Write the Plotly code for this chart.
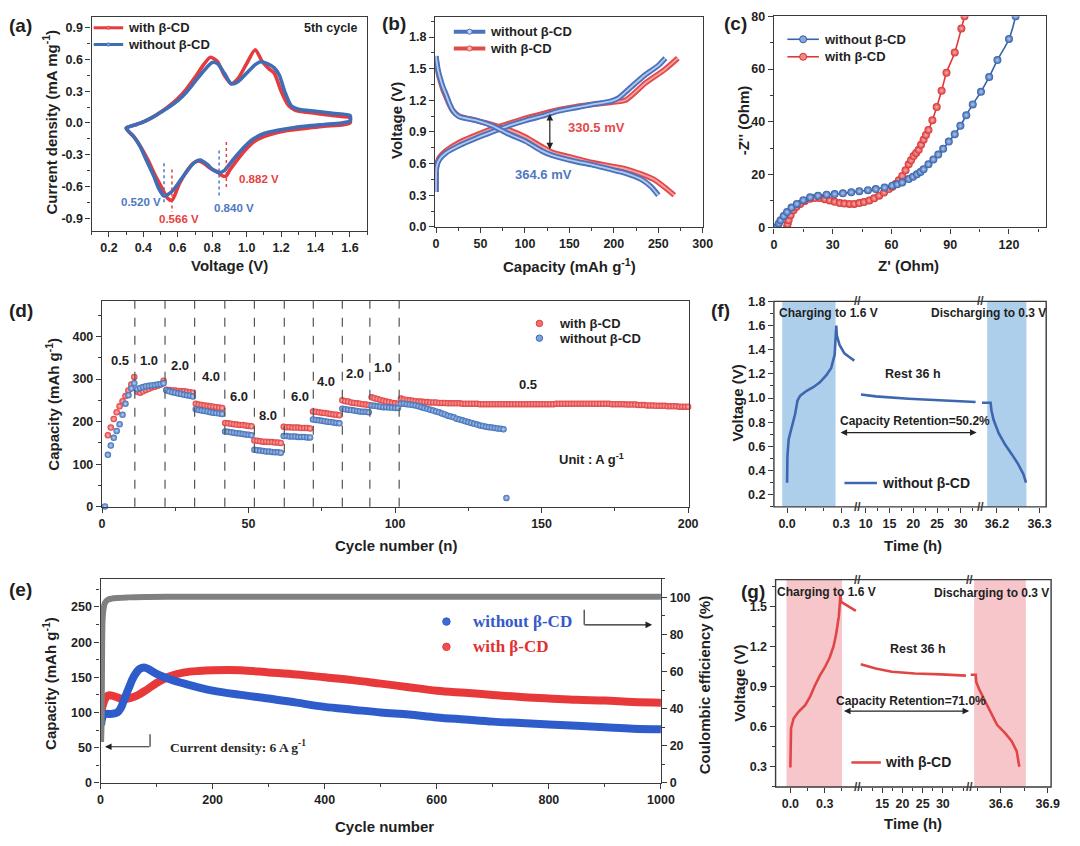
import plotly.graph_objects as go

# ======================= DATA =======================
# (a) CV curves, 5th cycle  (voltage V, current mA mg-1)
cv_red_up_v = [0.30,0.35,0.40,0.45,0.50,0.55,0.60,0.65,0.70,0.75,0.79,0.83,0.87,0.91,0.95,1.00,1.05,1.09,1.13,1.16,1.20,1.24,1.28,1.35,1.45,1.55,1.60]
cv_red_up_i = [-0.05,-0.02,0.01,0.05,0.10,0.16,0.23,0.32,0.43,0.55,0.62,0.58,0.45,0.37,0.42,0.56,0.69,0.58,0.51,0.47,0.30,0.17,0.12,0.10,0.08,0.06,0.05]
cv_red_dn_v = [1.60,1.55,1.45,1.35,1.25,1.18,1.10,1.04,0.99,0.94,0.90,0.882,0.86,0.83,0.79,0.75,0.72,0.69,0.65,0.61,0.566,0.54,0.51,0.47,0.43,0.39,0.35,0.30]
cv_red_dn_i = [0.00,-0.02,-0.03,-0.05,-0.07,-0.09,-0.13,-0.18,-0.26,-0.36,-0.45,-0.50,-0.50,-0.46,-0.43,-0.38,-0.36,-0.38,-0.46,-0.57,-0.73,-0.71,-0.62,-0.50,-0.36,-0.24,-0.14,-0.05]
cv_blue_up_v = [0.30,0.35,0.40,0.45,0.50,0.55,0.60,0.65,0.70,0.75,0.80,0.83,0.87,0.91,0.95,1.00,1.05,1.08,1.12,1.16,1.19,1.22,1.26,1.30,1.40,1.50,1.60]
cv_blue_up_i = [-0.05,-0.02,0.01,0.05,0.10,0.15,0.21,0.29,0.39,0.49,0.57,0.56,0.47,0.37,0.39,0.47,0.55,0.577,0.56,0.52,0.45,0.30,0.16,0.13,0.11,0.09,0.07]
cv_blue_dn_v = [1.60,1.55,1.45,1.35,1.25,1.18,1.10,1.04,0.99,0.94,0.90,0.87,0.84,0.81,0.77,0.73,0.70,0.66,0.62,0.57,0.52,0.49,0.46,0.42,0.38,0.34,0.30]
cv_blue_dn_i = [0.02,0.00,-0.015,-0.03,-0.05,-0.07,-0.10,-0.15,-0.22,-0.31,-0.39,-0.45,-0.47,-0.45,-0.39,-0.35,-0.37,-0.44,-0.53,-0.64,-0.69,-0.62,-0.50,-0.36,-0.22,-0.12,-0.05]
cv_peaks_v = [0.520, 0.566, 0.840, 0.882]
cv_peak_labels = ["0.520 V", "0.566 V", "0.840 V", "0.882 V"]

# (b) charge / discharge profiles (capacity mAh g-1, voltage V)
gcd_blue_chg_cap = [0, 0.7, 4, 11, 26, 45, 63, 82, 101, 119, 138, 157, 175, 196, 205, 220, 235, 250, 258]
gcd_blue_chg_v   = [0.33, 0.57, 0.64, 0.70, 0.77, 0.84, 0.90, 0.96, 1.01, 1.05, 1.10, 1.13, 1.16, 1.19, 1.22, 1.33, 1.44, 1.53, 1.60]
gcd_red_chg_cap  = [0, 0.7, 4, 11, 26, 45, 63, 82, 101, 119, 138, 157, 175, 196, 213, 235, 257, 272]
gcd_red_chg_v    = [0.33, 0.58, 0.66, 0.72, 0.80, 0.87, 0.93, 0.98, 1.03, 1.07, 1.11, 1.14, 1.16, 1.18, 1.20, 1.36, 1.49, 1.60]
gcd_blue_dis_cap = [0, 1, 2.5, 5, 8, 11, 15, 19, 26, 45, 63, 82, 101, 119, 130, 157, 175, 194, 213, 231, 242, 250]
gcd_blue_dis_v   = [1.62, 1.55, 1.48, 1.40, 1.32, 1.26, 1.17, 1.10, 1.045, 1.01, 0.96, 0.88, 0.81, 0.72, 0.68, 0.62, 0.59, 0.55, 0.51, 0.45, 0.38, 0.30]
gcd_red_dis_cap  = [0, 1, 2.5, 5, 8, 11, 15, 19, 26, 45, 63, 82, 101, 119, 130, 157, 175, 194, 213, 231, 245, 258, 268]
gcd_red_dis_v    = [1.60, 1.53, 1.46, 1.38, 1.30, 1.24, 1.16, 1.10, 1.05, 1.01, 0.97, 0.92, 0.85, 0.76, 0.71, 0.65, 0.61, 0.58, 0.55, 0.50, 0.45, 0.37, 0.30]
gcd_gap_cap = 128
gcd_gap_v = [0.72, 1.07]

# (c) Nyquist plots (Z' Ohm, -Z'' Ohm)
eis_blue_re = [1.7,2.5,3.4,5.0,6.7,9.0,11.7,15.0,18.5,22.5,26.9,31.0,35.2,39.5,43.6,48.0,52.0,56.5,60.4,63.0,
               65.5,68.8,71.0,73.0,74.8,76.4,78.9,81.4,83.9,86.4,89.3,92.3,95.2,98.2,101.5,105.7,109.9,114.1,120.0,123.4]
eis_blue_im = [0.2,1.5,2.7,4.3,5.8,7.5,8.9,10.3,11.4,12.0,12.4,12.6,12.9,13.3,13.7,14.1,14.5,15.1,15.8,16.3,
               17.0,18.3,19.2,20.1,21.0,22.0,23.9,25.7,27.6,29.8,32.5,35.3,38.5,42.5,46.6,51.4,57.0,63.4,71.4,80.0]
eis_red_re = [6.7,7.0,7.5,8.5,10.0,11.5,13.4,15.8,18.5,21.0,23.5,26.0,28.5,31.0,33.6,36.0,38.6,41.0,43.6,46.0,
              48.7,51.2,53.7,56.2,58.7,60.5,62.1,63.8,65.5,67.2,68.8,70.0,71.3,72.6,73.9,75.1,76.4,77.6,78.9,80.9,
              83.1,85.6,88.1,92.3,95.7,97.3]
eis_red_im = [0.0,1.2,2.7,4.6,6.5,7.8,8.9,10.0,10.8,11.1,11.1,10.7,10.2,9.7,9.2,9.0,8.9,8.9,9.2,9.6,
              10.2,11.0,12.0,13.2,14.5,15.4,16.4,17.9,19.5,21.6,23.9,25.4,27.0,28.2,29.4,31.3,33.2,35.0,36.9,40.6,
              45.6,51.8,58.6,66.3,75.4,80.0]

# (d) rate performance: capacity per cycle for each current-density step
rate_steps = ["0.5", "1.0", "2.0", "4.0", "6.0", "8.0", "6.0", "4.0", "2.0", "1.0", "0.5"]
rate_label_x = [6.2, 16.0, 26.5, 37.3, 46.6, 56.6, 67.4, 76.6, 86.3, 95.9, 145.3]
rate_label_y = [343, 343, 332, 307, 258, 214, 260, 295, 312, 328, 288]
rate_boundaries = [11.2, 21.5, 31.6, 41.9, 52.0, 62.2, 72.1, 82.0, 91.4, 101.4]
rate_first_cycle = 2
red_rate = [
    [168, 186, 206, 222, 236, 248, 260, 273, 287, 305],
    [270, 268, 271, 274, 277, 280, 282, 284, 287, 296],
    [275, 274, 273, 273, 272, 271, 271, 270, 269, 268],
    [242, 240, 239, 238, 237, 236, 235, 234, 233, 232],
    [197, 196, 195, 194, 193, 192, 192, 191, 190, 189],
    [156, 155, 154, 153, 153, 152, 152, 151, 151, 150],
    [188, 187, 187, 186, 186, 186, 185, 185, 185, 184],
    [224, 223, 222, 221, 220, 219, 218, 217, 216, 215],
    [250, 248, 247, 245, 244, 243, 242, 241, 240, 239],
    [257, 255, 253, 251, 249, 247, 246, 244, 243, 242],
    [254, 252, 251, 250, 249, 248, 247, 247, 246,
     246, 245, 245, 245, 244, 244, 244, 243, 243, 243,
     243, 243, 242, 242, 242, 242, 242, 242, 241, 241,
     241, 241, 241, 241, 241, 241, 241, 241, 241, 241,
     241, 241, 241, 241, 241, 241, 241, 241, 241, 241,
     241, 241, 241, 241, 242, 242, 242, 242, 242, 242,
     242, 242, 242, 242, 242, 242, 242, 242, 242, 242,
     242, 242, 242, 241, 241, 241, 241, 241, 240, 240,
     240, 240, 239, 239, 239, 238, 238, 238, 237, 237,
     237, 237, 236, 236, 236, 236, 235, 235, 235, 235],
]
blue_rate = [
    [122, 144, 162, 178, 194, 216, 242, 262, 278, 290],
    [276, 279, 281, 283, 284, 285, 286, 287, 288, 290],
    [273, 271, 269, 268, 266, 265, 263, 262, 261, 259],
    [229, 227, 226, 225, 224, 222, 221, 220, 219, 218],
    [177, 176, 175, 174, 173, 172, 171, 170, 169, 168],
    [134, 133, 132, 131, 130, 130, 129, 128, 128, 127],
    [166, 166, 165, 165, 165, 164, 164, 164, 163, 163],
    [205, 204, 203, 202, 201, 200, 199, 198, 197, 196],
    [230, 229, 228, 227, 226, 225, 224, 223, 223, 222],
    [238, 237, 236, 235, 234, 234, 233, 233, 232, 232],
    [242, 242, 241, 240, 239, 238, 236, 234, 232, 230,
     228, 226, 224, 222, 219, 217, 214, 212, 210, 207,
     205, 203, 201, 199, 197, 195, 193, 191, 190, 188,
     187, 186, 185, 184, 183, 182],
]
blue_extra_cycles = [1, 138]
blue_extra_caps = [1, 21]

# (e) long-term cycling at 6 A g-1
cyc_blue = [1, 3, 6, 10, 20, 30, 36, 42, 50, 60, 70, 78, 85, 100, 125, 150, 200, 250, 300, 350, 400,
            450, 500, 550, 600, 650, 700, 750, 800, 850, 900, 950, 1000]
cap_blue = [82, 92, 97, 98, 98, 100, 106, 118, 134, 152, 162, 164, 162, 155, 147, 141, 131, 125, 120, 114, 108,
            104, 100, 97, 93, 90, 87, 85, 83, 81, 79, 77, 76]
cyc_red = [1, 4, 8, 13, 20, 28, 40, 55, 65, 80, 100, 125, 150, 175, 200, 250, 300, 350, 400, 450, 500,
           550, 600, 650, 700, 750, 800, 850, 900, 950, 1000]
cap_red = [100, 110, 119, 124, 124, 122, 119, 121, 124, 131, 142, 152, 157, 159, 160, 160, 157, 154, 150, 146, 141,
           136, 131, 128, 125, 122, 120, 118, 117, 115, 114]
cyc_ce = [1, 2, 3, 4, 6, 8, 12, 20, 30, 50, 80, 120, 200, 300, 400, 500, 600, 700, 800, 900, 1000]
ce = [22, 35, 80, 90, 95, 97, 98.5, 99.3, 99.7, 100, 100.2, 100.3, 100.3, 100.3, 100.3, 100.4, 100.3, 100.3, 100.4, 100.3, 100.3]

# (f) self-discharge, without beta-CD  (time h, voltage V), three broken-axis segments
f_t1 = [0.0, 0.002, 0.009, 0.027, 0.045, 0.058, 0.073, 0.109, 0.145, 0.182, 0.218, 0.245, 0.264, 0.273, 0.276, 0.291, 0.318, 0.345, 0.373]
f_v1 = [0.30, 0.52, 0.66, 0.76, 0.87, 0.98, 1.02, 1.06, 1.09, 1.13, 1.19, 1.25, 1.36, 1.60, 1.52, 1.44, 1.37, 1.34, 1.31]
f_t2 = [9.0, 12.1, 19.0, 25.9, 33.1]
f_v2 = [1.03, 1.014, 0.995, 0.98, 0.967]
f_t3 = [36.165, 36.185, 36.187, 36.192, 36.204, 36.219, 36.235, 36.250, 36.262, 36.268]
f_v3 = [0.962, 0.962, 0.90, 0.82, 0.71, 0.615, 0.534, 0.452, 0.37, 0.30]
f_shade = [(-0.027, 0.269), (36.177, 36.269)]

# (g) self-discharge, with beta-CD
g_t1 = [0.0, 0.002, 0.006, 0.029, 0.071, 0.129, 0.171, 0.214, 0.257, 0.300, 0.343, 0.377, 0.400, 0.423, 0.437, 0.443, 0.471, 0.514, 0.571]
g_v1 = [0.295, 0.52, 0.59, 0.664, 0.713, 0.762, 0.824, 0.91, 0.984, 1.045, 1.12, 1.205, 1.30, 1.43, 1.59, 1.537, 1.52, 1.50, 1.47]
g_t2 = [9.7, 13.4, 17.4, 23.1, 29.6, 35.7]
g_v2 = [1.07, 1.038, 1.013, 1.0, 0.993, 0.984]
g_t3 = [36.406, 36.438, 36.442, 36.459, 36.491, 36.532, 36.575, 36.627, 36.669, 36.701, 36.718]
g_v3 = [0.99, 0.99, 0.934, 0.885, 0.81, 0.713, 0.615, 0.553, 0.492, 0.418, 0.30]
g_shade = [(-0.034, 0.451), (36.428, 36.76)]

# ======================= STYLE =======================
# The page keeps the browser's default 8 px body margin, so the figure is sized so that
# figure + margins fill the 1080 x 846 window exactly.
PAGE_W, PAGE_H, BODY_MARGIN = 1080, 846, 8
W, H = PAGE_W - 2 * BODY_MARGIN, PAGE_H - 2 * BODY_MARGIN
FONT = "Liberation Sans, Arial, Helvetica, sans-serif"
SERIF = "Liberation Serif, Times New Roman, serif"
INK = "#1f1f1f"
LINE = "#3a3a3a"

def px(x):
    return (x - BODY_MARGIN) / W

def py(y):
    return 1 - (y - BODY_MARGIN) / H

RED = "#E53B3E"
BLUE = "#3F6DB6"

fig = go.Figure()

def ball(edge, center, size):
    return dict(size=size, color=edge, gradient=dict(type="radial", color=center), line=dict(width=0))

# ---------- (a)
for v1, i1, v2, i2, col in [(cv_red_up_v, cv_red_up_i, cv_red_dn_v, cv_red_dn_i, RED),
                            (cv_blue_up_v, cv_blue_up_i, cv_blue_dn_v, cv_blue_dn_i, BLUE)]:
    fig.add_trace(go.Scatter(x=v1 + v2, y=i1 + i2, mode="lines",
                             line=dict(color=col, width=3.6, shape="spline", smoothing=0.7),
                             xaxis="x", yaxis="y"))

# ---------- (b)
for cap, v, col, core in [(gcd_red_chg_cap, gcd_red_chg_v, "#E24A4A", "#F6A3A3"),
                          (gcd_red_dis_cap, gcd_red_dis_v, "#E24A4A", "#F6A3A3"),
                          (gcd_blue_chg_cap, gcd_blue_chg_v, "#4B73BD", "#B4C8EC"),
                          (gcd_blue_dis_cap, gcd_blue_dis_v, "#4B73BD", "#B4C8EC")]:
    fig.add_trace(go.Scatter(x=cap, y=v, mode="lines", line=dict(color=col, width=5.5, shape="spline", smoothing=0.6),
                             xaxis="x2", yaxis="y2"))
    fig.add_trace(go.Scatter(x=cap, y=v, mode="lines", line=dict(color=core, width=1.8, shape="spline", smoothing=0.6),
                             xaxis="x2", yaxis="y2"))

# ---------- (c)
fig.add_trace(go.Scatter(x=eis_red_re, y=eis_red_im, mode="lines+markers",
                         line=dict(color="#E03838", width=1.6, shape="spline"),
                         marker=ball("#D83030", "#FBB0B0", 8), xaxis="x3", yaxis="y3"))
fig.add_trace(go.Scatter(x=eis_blue_re, y=eis_blue_im, mode="lines+markers",
                         line=dict(color="#3563B0", width=1.6, shape="spline"),
                         marker=ball("#2F5EAA", "#B5C9EE", 8), xaxis="x3", yaxis="y3"))

# ---------- (d)
def flatten_steps(steps, start):
    xs, ys = [], []
    c = start
    for seg in steps:
        for val in seg:
            xs.append(c)
            ys.append(val)
            c += 1
    return xs, ys

rx, ry = flatten_steps(red_rate, rate_first_cycle)
bx, by = flatten_steps(blue_rate, rate_first_cycle)
fig.add_trace(go.Scatter(x=rx, y=ry, mode="markers", marker=ball("#E03A3A", "#FFC0C0", 6.5),
                         xaxis="x4", yaxis="y4", cliponaxis=False))
fig.add_trace(go.Scatter(x=bx + blue_extra_cycles, y=by + blue_extra_caps, mode="markers",
                         marker=ball("#3A6CB5", "#C2D4F4", 6.5), xaxis="x4", yaxis="y4", cliponaxis=False))

# ---------- (e)
fig.add_trace(go.Scatter(x=cyc_ce, y=ce, mode="lines", line=dict(color="#808080", width=6, shape="spline"),
                         xaxis="x8", yaxis="y9"))
fig.add_trace(go.Scatter(x=cyc_red, y=cap_red, mode="lines", line=dict(color="#E8393A", width=8, shape="spline"),
                         xaxis="x8", yaxis="y8"))
fig.add_trace(go.Scatter(x=cyc_blue, y=cap_blue, mode="lines", line=dict(color="#2F5CCB", width=8, shape="spline"),
                         xaxis="x8", yaxis="y8"))

# ---------- (f)
FBLUE = "#3D68B0"
for t, v, xa in [(f_t1, f_v1, "x5"), (f_t2, f_v2, "x6"), (f_t3, f_v3, "x7")]:
    fig.add_trace(go.Scatter(x=t, y=v, mode="lines", line=dict(color=FBLUE, width=2.6),
                             xaxis=xa, yaxis="y5"))

# ---------- (g)
GRED = "#E04646"
for t, v, xa in [(g_t1, g_v1, "x10"), (g_t2, g_v2, "x11"), (g_t3, g_v3, "x12")]:
    fig.add_trace(go.Scatter(x=t, y=v, mode="lines", line=dict(color=GRED, width=2.6),
                             xaxis=xa, yaxis="y10"))

# ======================= AXES =======================
TICKFONT = dict(family=FONT, size=12.5, color=INK, weight="bold")

def axis(domain, rng, mdt=None, showline=True, mirror=True, **kw):
    d = dict(domain=domain, range=rng, showgrid=False, zeroline=False,
             showline=showline, linecolor=LINE, linewidth=1.4, mirror=mirror,
             ticks="outside", ticklen=5, tickwidth=1.3, tickcolor=LINE,
             tickfont=TICKFONT)
    if mdt is not None:
        d["minor"] = dict(ticks="outside", ticklen=3, tickwidth=1, tickcolor=LINE, dtick=mdt, showgrid=False)
    d.update(kw)
    return d

def fmt(vals, nd=1):
    return [f"{v:.{nd}f}" for v in vals]

a_xt = [0.2, 0.4, 0.6, 0.8, 1.0, 1.2, 1.4, 1.6]
a_yt = [-0.9, -0.6, -0.3, 0.0, 0.3, 0.6, 0.9]
b_yt = [0.0, 0.3, 0.6, 0.9, 1.2, 1.5, 1.8]
f_yt = [0.2, 0.4, 0.6, 0.8, 1.0, 1.2, 1.4, 1.6, 1.8]
g_yt = [0.3, 0.6, 0.9, 1.2, 1.5]

lay = dict(
    width=W, height=H, margin=dict(l=0, r=0, t=0, b=0),
    paper_bgcolor="white", plot_bgcolor="rgba(0,0,0,0)", showlegend=False,
    # (a)
    xaxis=axis([px(90), px(370)], [0.1, 1.7], 0.1, anchor="y", tickvals=a_xt, ticktext=fmt(a_xt), tick0=0),
    yaxis=axis([py(227.7), py(10)], [-1.02, 1.0], 0.15, anchor="x", tickvals=a_yt,
               ticktext=[f"{v:.1f}" for v in a_yt], tick0=0),
    # (b)
    xaxis2=axis([px(439), px(711)], [-1, 300], 25, anchor="y2", dtick=50, tick0=0),
    yaxis2=axis([py(223.5), py(10)], [0, 1.99], 0.15, anchor="x2", tickvals=b_yt, ticktext=fmt(b_yt), tick0=0),
    # (c)
    xaxis3=axis([px(783.3), px(1060)], [0, 139], 15, anchor="y3", dtick=30, tick0=0),
    yaxis3=axis([py(224), py(9.3)], [0, 80], 10, anchor="x3", dtick=20, tick0=0),
    # (d)
    xaxis4=axis([px(100.5), px(697)], [0, 200.3], 25, anchor="y4", dtick=50, tick0=0),
    yaxis4=axis([py(508.3), py(298.5)], [0, 484], 50, anchor="x4", tickvals=[0, 100, 200, 300, 400], tick0=0),
    # (f)
    xaxis5=axis([px(783.3), px(868.3)], [-0.073, 0.391], 0.1, showline=False, mirror=False, anchor="y5",
                tickvals=[0.0, 0.3], ticktext=["0.0", "0.3"], tick0=0),
    xaxis6=axis([px(868.3), px(993.3)], [8.28, 34.14], 2.5, showline=False, mirror=False, anchor="y5",
                tickvals=[10, 15, 20, 25, 30], tick0=0),
    xaxis7=axis([px(993.3), px(1060)], [36.1615, 36.3154], 0.05, showline=False, mirror=False, anchor="y5",
                tickvals=[36.2, 36.3], ticktext=["36.2", "36.3"], tick0=36.0),
    yaxis5=axis([py(508.3), py(299.3)], [0.1, 1.8], 0.1, showline=False, mirror=False, anchor="x5",
                tickvals=f_yt, ticktext=fmt(f_yt), tick0=0),
    # (e)
    xaxis8=axis([px(99), px(668.5)], [0, 1000], 100, anchor="y8", dtick=200, tick0=0),
    yaxis8=axis([py(789), py(581.5)], [0, 290], 25, mirror=False, anchor="x8", tickvals=[0, 50, 100, 150, 200, 250], tick0=0),
    yaxis9=axis([py(789), py(581.5)], [0, 110], 10, mirror=False, anchor="x8", overlaying="y8", side="right",
                tickvals=[0, 20, 40, 60, 80, 100], tick0=0),
    # (g)
    xaxis10=axis([px(785), px(868.3)], [-0.129, 0.586], 0.15, showline=False, mirror=False, anchor="y10",
                 tickvals=[0.0, 0.3], ticktext=["0.0", "0.3"], tick0=0),
    xaxis11=axis([px(868.3), px(981.7)], [8.92, 36.49], 2.5, showline=False, mirror=False, anchor="y10",
                 tickvals=[15, 20, 25, 30], tick0=0),
    xaxis12=axis([px(981.7), px(1065)], [36.396, 36.922], 0.15, showline=False, mirror=False, anchor="y10",
                 tickvals=[36.6, 36.9], ticktext=["36.6", "36.9"], tick0=36.0),
    yaxis10=axis([py(793.3), py(582.3)], [0.148, 1.704], 0.15, showline=False, mirror=False, anchor="x10",
                 tickvals=g_yt, ticktext=fmt(g_yt), tick0=0),
)
fig.update_layout(**lay)

# ======================= ANNOTATIONS & SHAPES =======================
ann = []
shapes = []

def txt(x, y, s, size=13, color=INK, xa="center", ya="middle", family=FONT, angle=0, bold=True,
        xref="paper", yref="paper"):
    if xref == "paper":
        x = px(x)
    if yref == "paper":
        y = py(y)
    ann.append(dict(x=x, y=y, xref=xref, yref=yref, text=(f"<b>{s}</b>" if bold else s), showarrow=False,
                    font=dict(family=family, size=size, color=color), xanchor=xa, yanchor=ya, textangle=angle))

def pline(x0, y0, x1, y1, color=LINE, width=1.3, dash=None):
    ln = dict(color=color, width=width)
    if dash:
        ln["dash"] = dash
    shapes.append(dict(type="line", xref="paper", yref="paper", x0=px(x0), y0=py(y0), x1=px(x1), y1=py(y1), line=ln))

def pdot(x, y, r, color, edge=None):
    shapes.append(dict(type="circle", xref="paper", yref="paper", x0=px(x - r), x1=px(x + r), y0=py(y + r), y1=py(y - r),
                       fillcolor=color, line=dict(color=edge or color, width=1)))

def parrow(x_head, y_head, x_tail, y_tail, both=False, color="#222", width=1.2):
    ann.append(dict(x=px(x_head), y=py(y_head), xref="paper", yref="paper", ax=x_tail - x_head, ay=y_tail - y_head,
                    axref="pixel", ayref="pixel", text="", showarrow=True, arrowhead=2, arrowsize=1.1,
                    arrowwidth=width, arrowcolor=color, arrowside=("end+start" if both else "end")))

# panel letters
for s, x, y in [("(a)", 18, 19), ("(b)", 397, 17), ("(c)", 744, 17), ("(d)", 18, 309),
                ("(f)", 729, 309), ("(e)", 18, 592), ("(g)", 762, 594)]:
    txt(x, y, s, size=19)

# axis titles
TS = 15
txt(230, 263, "Voltage (V)", TS)
txt(47, 117, "Current density (mA mg<sup>-1</sup>)", TS, angle=-90)
txt(576, 263, "Capacity (mAh g<sup>-1</sup>)", TS)
txt(399, 115, "Voltage (V)", TS, angle=-90)
txt(920, 263, "Z' (Ohm)", TS)
txt(752, 115, "-Z'' (Ohm)", TS, angle=-90)
txt(400, 548, "Cycle number (n)", TS)
txt(50, 404, "Capacity (mAh g<sup>-1</sup>)", TS, angle=-90)
txt(925, 548, "Time (h)", TS)
txt(746, 403, "Voltage (V)", TS, angle=-90)
txt(388, 833, "Cycle number", TS)
txt(47, 688, "Capacity (mAh g<sup>-1</sup>)", TS, angle=-90)
txt(713, 690, "Coulombic efficiency (%)", TS, angle=-90)
txt(925, 830, "Time (h)", TS)
txt(748, 688, "Voltage (V)", TS, angle=-90)

# (a) legend, labels, peak markers
pline(92, 21, 122, 21, RED, 3)
pdot(107, 21, 1.6, "#F08080", RED)
txt(125, 21, "with β-CD", 13, xa="left")
pline(92, 38, 122, 38, BLUE, 3)
pdot(107, 38, 1.6, "#90A8D8", BLUE)
txt(125, 38, "without β-CD", 13, xa="left")
txt(363, 21, "5th cycle", 12.5, xa="right")
peak_col = ["#4C78C4", "#E84040", "#4C78C4", "#E84040"]
peak_span = [(-0.38, -0.76), (-0.44, -0.84), (-0.26, -0.70), (-0.18, -0.63)]
peak_pos = [(0.384, -0.75), (0.607, -0.905), (0.927, -0.80), (1.07, -0.53)]
for v, lab, c, sp, pp in zip(cv_peaks_v, cv_peak_labels, peak_col, peak_span, peak_pos):
    shapes.append(dict(type="line", xref="x", yref="y", x0=v, x1=v, y0=sp[0], y1=sp[1],
                       line=dict(color=c, width=1.5, dash="dot")))
    txt(pp[0], pp[1], lab, 11.5, color=c, xref="x", yref="y")

# (b) legend, arrow, labels
pline(458, 25, 490, 25, "#4B73BD", 4)
pdot(474, 25, 2.6, "#C8D6F0", "#4B73BD")
txt(493, 25, "without β-CD", 13, xa="left")
pline(458, 42, 490, 42, "#E24A4A", 4)
pdot(474, 42, 2.6, "#F7B8B8", "#E24A4A")
txt(493, 42, "with β-CD", 13, xa="left")
ann.append(dict(x=gcd_gap_cap, y=gcd_gap_v[1], ax=gcd_gap_cap, ay=gcd_gap_v[0], xref="x2", yref="y2",
                axref="x2", ayref="y2", text="", showarrow=True, arrowhead=2, arrowsize=1.1, arrowwidth=1.2,
                arrowcolor="#222", arrowside="end+start"))
txt(181, 0.945, "330.5 mV", 13, color="#E8484A", xref="x2", yref="y2")
txt(121, 0.50, "364.6 mV", 13, color="#4F79C2", xref="x2", yref="y2")

# (c) legend
pline(797, 32.7, 829, 32.7, "#3563B0", 1.6)
pdot(813, 32.7, 3.6, "#8AA6DA", "#2F5EAA")
txt(832, 32.7, "without β-CD", 13, xa="left")
pline(797, 50.5, 829, 50.5, "#E03838", 1.6)
pdot(813, 50.5, 3.6, "#F08888", "#D83030")
txt(832, 50.5, "with β-CD", 13, xa="left")

# (d) boundaries, rate labels, legend
for b in rate_boundaries:
    shapes.append(dict(type="line", xref="x4", yref="y4 domain", x0=b, x1=b, y0=0, y1=1,
                       line=dict(color="#555555", width=1.2, dash="dash")))
for s, x, y in zip(rate_steps, rate_label_x, rate_label_y):
    txt(x, y, s, 13, xref="x4", yref="y4")
pdot(545, 321.7, 3.3, "#F07070", "#E03A3A")
txt(563, 321.7, "with β-CD", 13, xa="left")
pdot(545, 336.7, 3.3, "#7FA0D8", "#3A6CB5")
txt(563, 336.7, "without β-CD", 13, xa="left")
txt(598, 460, "Unit : A g<sup>-1</sup>", 13)

# (e) legend, arrows, label
pdot(450.5, 625, 3.8, "#3F6AD6", "#2F5CCB")
txt(475, 625, "without β-CD", 17, color="#3559CC", xa="left", family=SERIF)
pdot(450.5, 650.7, 3.8, "#EE5050", "#E8393A")
txt(475, 650.7, "with β-CD", 17, color="#E03232", xa="left", family=SERIF)
pline(590.5, 613, 590.5, 628.3, "#333", 1.2)
parrow(659.5, 628.3, 590.5, 628.3)
pline(149.3, 739.5, 149.3, 752.3, "#333", 1.2)
parrow(103.5, 752.3, 149.3, 752.3)
txt(168, 752.3, "Current density: 6 A g<sup>-1</sup>", 13.5, color="#2a2a2a", xa="left", family=SERIF)

# (f) shading, frame, breaks, texts
for (a0, a1), xa in zip(f_shade, ["x5", "x7"]):
    shapes.append(dict(type="rect", xref=xa, yref="y5 domain", x0=a0, x1=a1, y0=0, y1=1,
                       fillcolor="#AECFEC", line=dict(width=0), layer="below"))
shapes.append(dict(type="rect", xref="paper", yref="paper", x0=px(783.3), x1=px(1060), y0=py(508.3), y1=py(299.3),
                   line=dict(color=LINE, width=1.4)))
for xb in (868.3, 993.3):
    for yb in (299.3, 508.3):
        txt(xb, yb, "//", 12, color=LINE)
txt(839, 311, "Charging to 1.6 V", 12)
txt(1062, 311, "Discharging to 0.3 V", 12, xa="right")
txt(925, 373, "Rest 36 h", 12.5)
txt(926.5, 421, "Capacity Retention=50.2%", 12)
parrow(989.3, 432.7, 851.7, 432.7, both=True)
pline(855, 484, 888, 484, FBLUE, 2.5)
txt(891, 484, "without β-CD", 14, xa="left")

# (g) shading, frame, breaks, texts
for (a0, a1), xa in zip(g_shade, ["x10", "x12"]):
    shapes.append(dict(type="rect", xref=xa, yref="y10 domain", x0=a0, x1=a1, y0=0, y1=1,
                       fillcolor="#F7C6CA", line=dict(width=0), layer="below"))
shapes.append(dict(type="rect", xref="paper", yref="paper", x0=px(785), x1=px(1065), y0=py(793.3), y1=py(582.3),
                   line=dict(color=LINE, width=1.4)))
for xb in (868.3, 981.7):
    for yb in (582.3, 793.3):
        txt(xb, yb, "//", 12, color=LINE)
txt(837, 595, "Charging to 1.6 V", 12)
txt(1065, 596, "Discharging to 0.3 V", 12, xa="right")
txt(930, 653, "Rest 36 h", 12.5)
txt(923, 706, "Capacity Retention=71.0%", 12)
parrow(981.7, 716, 855, 716, both=True)
pline(862, 768.3, 892, 768.3, GRED, 2.5)
txt(894, 768.3, "with β-CD", 14, xa="left")

fig.update_layout(annotations=ann, shapes=shapes)
fig.write_html("out.html", config={"displayModeBar": False})
